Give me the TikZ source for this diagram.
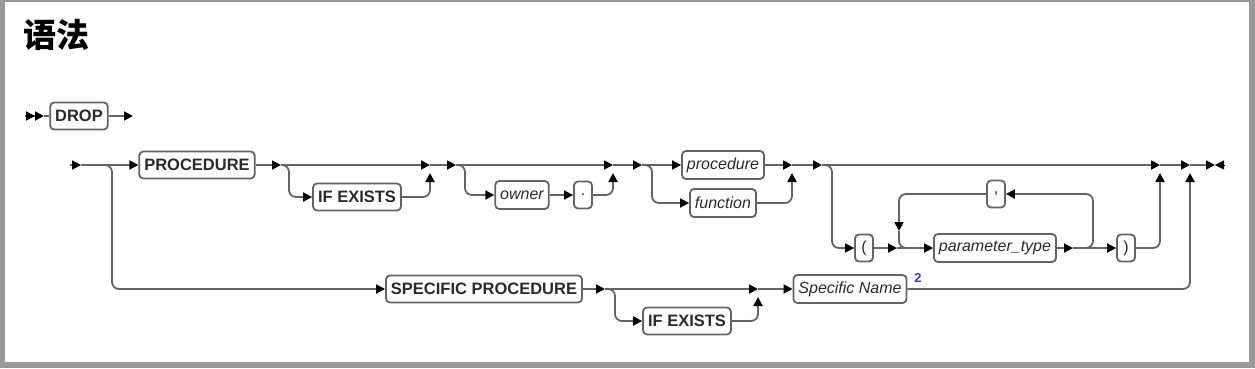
\documentclass[tikz,border=0pt]{standalone}
\usepackage{fontspec}
\setmainfont{Liberation Sans}
\newfontfamily\cjk{Noto Sans CJK SC}
\usetikzlibrary{arrows.meta}

\definecolor{railgray}{HTML}{646464}
\definecolor{framegray}{HTML}{999999}
\definecolor{textgray}{HTML}{2A2A2A}
\definecolor{noteblue}{HTML}{3A3AE0}

\tikzset{rr/.tip={Triangle[length=9pt,width=9pt,color=black]}}

\begin{document}
\begin{tikzpicture}[x=1pt,y=-1pt,>={rr},
  rail/.style={draw=railgray,line width=1.8pt,rounded corners=7pt},
  kw/.style={draw=railgray,line width=1.8pt,rounded corners=4pt,fill=white,
    text=textgray,font=\fontsize{16.5}{18}\selectfont\bfseries,
    inner xsep=5pt,inner ysep=0pt,minimum height=27pt},
  var/.style={kw,font=\fontsize{16}{18}\selectfont\itshape,minimum height=28pt},
  sym/.style={kw,font=\fontsize{16}{18}\selectfont,minimum width=18pt,inner xsep=2pt}]
% frame
\fill[framegray] (0,0) rectangle (1255,368);
\fill[white] (5,2) rectangle (1249,362);
\useasboundingbox (0,0) rectangle (1255,368);
\node[anchor=base west,inner sep=0pt,font=\fontsize{33}{36}\selectfont\cjk\bfseries] (title) at (23,47) {语法};

% first line
\coordinate (m0) at (25,116);
\coordinate (m1) at (44,116);
\node[kw] (drop) at (79,116) {DROP};
\coordinate (m2) at (133,116);
\draw[rail,-{rr[]rr[]}] (m0) -- (m1);
\draw[rail] (m1) -- (drop.west);
\draw[rail,->] (drop.east) -- (m2);

% main row
\coordinate (s0) at (70,165);
\coordinate (s1) at (81,165);
\coordinate (b1) at (112,165);
\node[kw] (proc) at (197,165) {PROCEDURE};
\coordinate (j1) at (281,165);
\coordinate (k1) at (289,165);
\node[kw] (ifex) at (357,197) {IF EXISTS};
\coordinate (j2) at (430,165);
\coordinate (u2) at (430,173);
\coordinate (j3) at (456,165);
\coordinate (k3) at (465,165);
\node[var] (owner) at (522,195) {owner};
\node[sym] (dot) at (583,195) {.};
\coordinate (j4) at (613,165);
\coordinate (u4) at (613,173);
\coordinate (j5) at (642,165);
\coordinate (k5) at (652,165);
\node[var] (procname) at (723,165) {procedure};
\node[var] (funcname) at (723,203) {function};
\coordinate (j6) at (792,165);
\coordinate (u6) at (792,173);
\coordinate (j7) at (822,165);
\coordinate (k7) at (832,165);
\node[sym] (lpar) at (864,248) {(};
\coordinate (lp1) at (897,248);
\node[var] (ptype) at (995,248) {parameter\_type};
\coordinate (lp2) at (1073,248);
\coordinate (lpr) at (1093,248);
\node[sym] (comma) at (996,194) {,};
\coordinate (lpd) at (899,231);
\coordinate (lpe) at (915,248);
\node[sym] (rpar) at (1126,248) {)};
\coordinate (j8) at (1160,165);
\coordinate (u8) at (1160,173);
\coordinate (j9) at (1190,165);
\coordinate (u9) at (1190,173);
\coordinate (e1) at (1215,165);
\coordinate (e2) at (1225,165);

% lower row
\node[kw] (sproc) at (484,289) {SPECIFIC PROCEDURE};
\coordinate (j10) at (605,289);
\coordinate (k10) at (615,289);
\node[kw] (ifexb) at (687,321) {IF EXISTS};
\coordinate (j11) at (758,289);
\coordinate (u11) at (758,297);
\node[var] (sname) at (850,289) {Specific Name};
\node[inner sep=0pt,text=noteblue,font=\fontsize{13}{14}\selectfont\bfseries] (note) at (918,278) {2};

% connectors
\draw[rail,->] (s0) -- (s1);
\draw[rail,->] (s1) -- (proc.west);
\draw[rail,->] (s1) -- (b1) |- (sproc.west);
\draw[rail,->] (proc.east) -- (j1);
\draw[rail,->] (j1) -- (j2);
\draw[rail,->] (j1) -- (k1) |- (ifex.west);
\draw[rail,->] (ifex.east) -| (u2);
\draw[rail,->] (j2) -- (j3);
\draw[rail,->] (j3) -- (j4);
\draw[rail,->] (j3) -- (k3) |- (owner.west);
\draw[rail,->] (owner.east) -- (dot.west);
\draw[rail,->] (dot.east) -| (u4);
\draw[rail,->] (j4) -- (j5);
\draw[rail,->] (j5) -- (procname.west);
\draw[rail,->] (j5) -- (k5) |- (funcname.west);
\draw[rail,->] (procname.east) -- (j6);
\draw[rail,->] (funcname.east) -| (u6);
\draw[rail,->] (j6) -- (j7);
\draw[rail,->] (j7) -- (j8);
\draw[rail,->] (j7) -- (k7) |- (lpar.west);
\draw[rail,->] (lpar.east) -- (lp1);
\draw[rail,->] (lp1) -- (ptype.west);
\draw[rail,->] (ptype.east) -- (lp2);
\draw[rail,->] (lp2) -- (rpar.west);
\draw[rail,->] (lp2) -- (lpr) |- (comma.east);
\draw[rail,->] (comma.west) -| (lpd);
\draw[rail] (lpd) |- (lpe);
\draw[rail,->] (rpar.east) -| (u8);
\draw[rail,->] (j8) -- (j9);
\draw[rail,->] (j9) -- (e1);
\draw[->] (e2) -- (e1);
\draw[rail,->] (sproc.east) -- (j10);
\draw[rail,->] (j10) -- (j11);
\draw[rail,->] (j10) -- (k10) |- (ifexb.west);
\draw[rail,->] (ifexb.east) -| (u11);
\draw[rail,->] (j11) -- (sname.west);
\draw[rail,->] (sname.east) -| (u9);
\end{tikzpicture}
\end{document}
